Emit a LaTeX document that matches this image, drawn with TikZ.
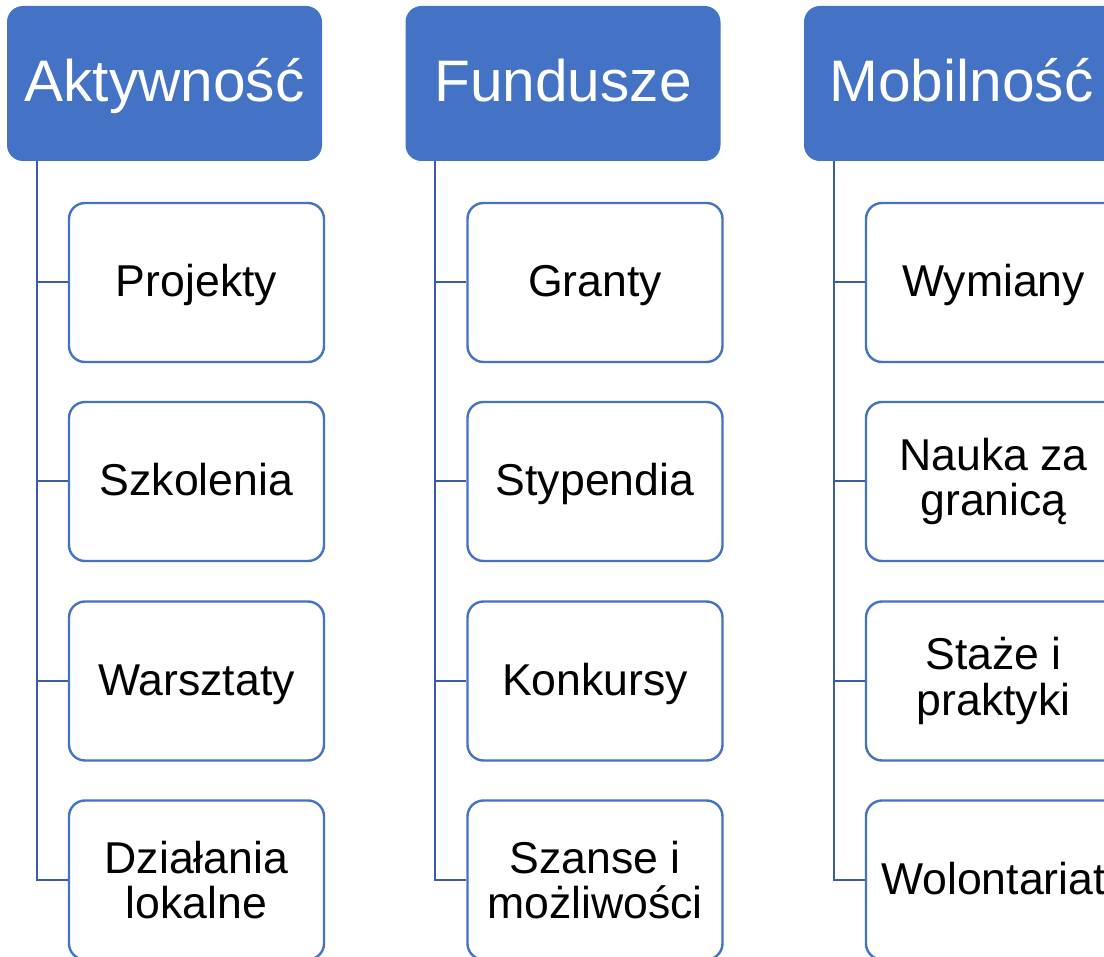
\documentclass[tikz,border=0pt]{standalone}
\usepackage{fontspec}
\setmainfont{Liberation Sans}
\definecolor{acc}{HTML}{4472C4}
\definecolor{connc}{HTML}{3A5DA6}
\begin{document}
\begin{tikzpicture}[x=1pt,y=-1pt,
  head/.style={draw=none, fill=acc, rounded corners=16pt, minimum width=315pt, minimum height=155pt,
    text=white, font=\fontsize{58.6}{60}\selectfont, inner sep=0pt, text height=37pt, text depth=0pt},
  child/.style={draw=acc, line width=2.4pt, fill=white, rounded corners=16pt, minimum width=255pt,
    minimum height=159pt, font=\fontsize{44.6}{45.5}\selectfont, align=center, inner sep=0pt},
  one/.style={text height=29pt, text depth=0pt},
  connline/.style={draw=connc, line width=2pt}]
\useasboundingbox (0,0) rectangle (1104,957);
\clip (0,0) rectangle (1104,957);

% headers
\node[head] (h1) at (164.5,83.5) {Aktywność};
\node[head] (h2) at (563,83.5) {Fundusze};
\node[head] (h3) at (961.5,83.5) {Mobilność};

% column 1
\node[child,one] (a1) at (196.5,282.5) {Projekty};
\node[child,one] (a2) at (196.5,481.5) {Szkolenia};
\node[child,one] (a3) at (196.5,681) {Warsztaty};
\node[child] (a4) at (196.5,880) {Działania\\lokalne};

% column 2
\node[child,one] (b1) at (595,282.5) {Granty};
\node[child,one] (b2) at (595,481.5) {Stypendia};
\node[child,one] (b3) at (595,681) {Konkursy};
\node[child] (b4) at (595,880) {Szanse i\\możliwości};

% column 3
\node[child,one] (c1) at (993.5,282.5) {Wymiany};
\node[child] (c2) at (993.5,481.5) {Nauka za\\granicą};
\node[child] (c3) at (993.5,681) {Staże i\\praktyki};
\node[child,one] (c4) at (993.5,880) {Wolontariat};

% connectors
\coordinate (t1) at ([xshift=30pt]h1.south west);
\coordinate (t2) at ([xshift=30pt]h2.south west);
\coordinate (t3) at ([xshift=30pt]h3.south west);
\foreach \c in {a1,a2,a3,a4} \draw[connline] (t1) |- (\c.west);
\foreach \c in {b1,b2,b3,b4} \draw[connline] (t2) |- (\c.west);
\foreach \c in {c1,c2,c3,c4} \draw[connline] (t3) |- (\c.west);
\end{tikzpicture}
\end{document}
